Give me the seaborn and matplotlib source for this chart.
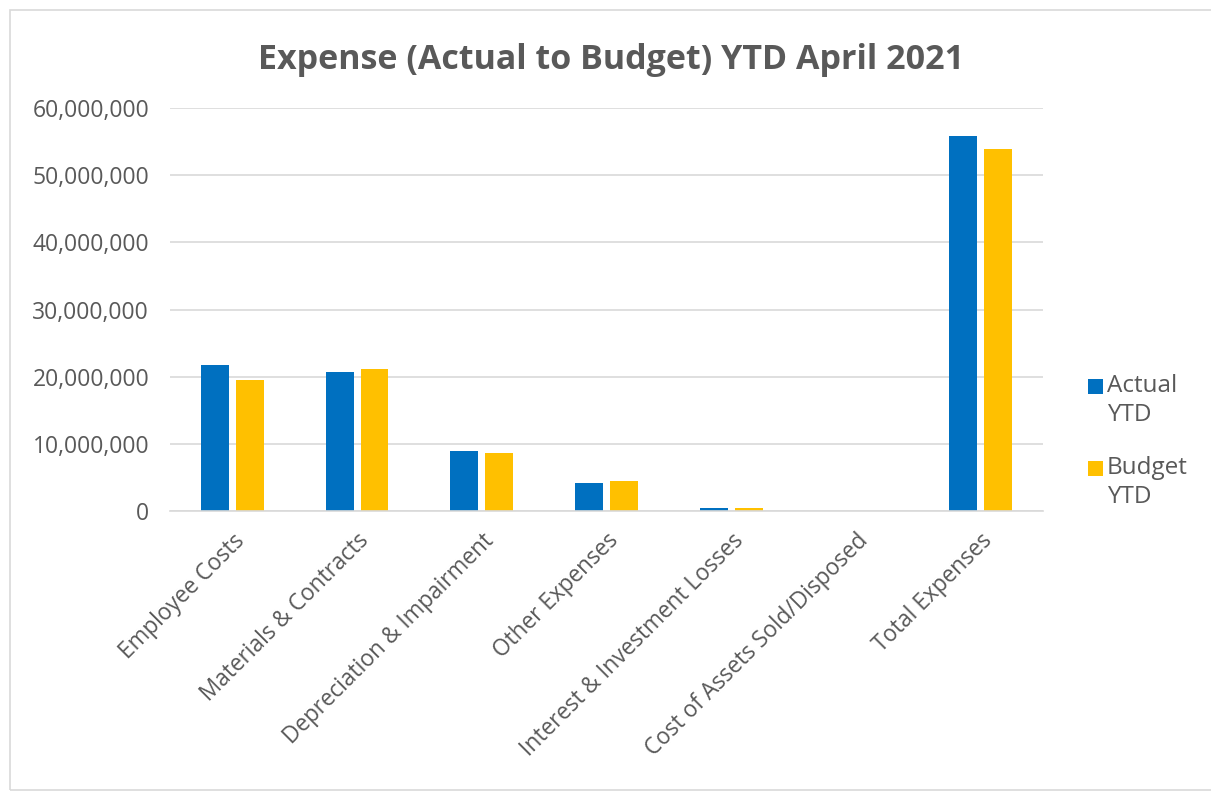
import matplotlib
matplotlib.use("Agg")
import matplotlib.pyplot as plt
import matplotlib.patches as mpatches
from matplotlib.ticker import FuncFormatter
import seaborn as sns
import pandas as pd

categories = [
    "Employee Costs",
    "Materials & Contracts",
    "Depreciation & Impairment",
    "Other Expenses",
    "Interest & Investment Losses",
    "Cost of Assets Sold/Disposed",
    "Total Expenses",
]
actual_ytd = [21_700_000, 20_700_000, 9_000_000, 4_100_000, 450_000, 20_000, 55_900_000]
budget_ytd = [19_500_000, 21_100_000, 8_600_000, 4_400_000, 400_000, 0, 53_900_000]
series_names = ["Actual YTD", "Budget YTD"]
legend_labels = ["Actual\nYTD", "Budget\nYTD"]
colors = ["#0070C0", "#FFC000"]

df = pd.DataFrame({
    "Category": categories * 2,
    "Series": [series_names[0]] * len(categories) + [series_names[1]] * len(categories),
    "Value": actual_ytd + budget_ytd,
})

sns.set_theme(style="white")
plt.rcParams["font.family"] = ["Open Sans", "DejaVu Sans"]
text_color = "#595959"

W, H = 1211, 792
fig = plt.figure(figsize=(W / 100, H / 100), dpi=100)
ax = fig.add_axes([170 / W, 1 - 511 / H, 873 / W, 403 / H])

sns.barplot(
    data=df, x="Category", y="Value", hue="Series",
    palette=colors, saturation=1, width=0.56, gap=0.2, ax=ax,
    edgecolor="none", legend=False,
)

ax.set_ylim(0, 60_000_000)
ax.set_yticks(range(0, 60_000_001, 10_000_000))
ax.yaxis.set_major_formatter(FuncFormatter(lambda v, p: f"{int(v):,}"))
ax.grid(axis="y", color="#D9D9D9", linewidth=1.2)
ax.set_axisbelow(True)
for s in ["top", "right", "left"]:
    ax.spines[s].set_visible(False)
ax.spines["bottom"].set_color("#D9D9D9")
ax.spines["bottom"].set_linewidth(1.2)
ax.set_xlabel("")
ax.set_ylabel("")
ax.tick_params(axis="y", length=0, pad=15, labelsize=16.5, labelcolor=text_color)
ax.tick_params(axis="x", length=0, pad=13, labelsize=16.3, labelcolor=text_color)
for lbl in ax.get_xticklabels():
    lbl.set_rotation(45)
    lbl.set_ha("right")
    lbl.set_rotation_mode("anchor")

fig.text(0.505, 1 - 60 / H, "Expense (Actual to Budget) YTD April 2021",
         ha="center", va="center", fontsize=24.5, fontweight="bold", color=text_color)

# legend: colour key squares with two-line labels
legend_rows = [(386, legend_labels[0], colors[0]), (468, legend_labels[1], colors[1])]
for y_px, label, c in legend_rows:
    fig.add_artist(mpatches.Rectangle((1088 / W, 1 - (y_px + 8) / H), 15 / W, 15 / H,
                                      transform=fig.transFigure, facecolor=c,
                                      edgecolor="none"))
    fig.text(1107 / W, 1 - (y_px - 12) / H, label, ha="left", va="top",
             fontsize=17.5, color=text_color, linespacing=1.28)

# chart border
fig.add_artist(mpatches.Rectangle((10 / W, 2 / H), 1.2, 1 - 12 / H,
                                  transform=fig.transFigure, fill=False,
                                  edgecolor="#D9D9D9", linewidth=1.2))

fig.savefig("out.png", dpi=100)
